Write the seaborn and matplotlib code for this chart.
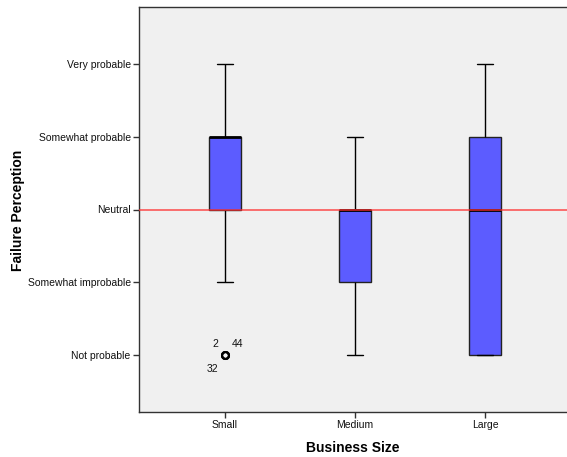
import pandas as pd
import matplotlib.pyplot as plt
import seaborn as sns

# failure perception scores (1 = Not probable ... 5 = Very probable)
small = [1, 1, 1, 2, 3, 3, 3, 3, 3, 4, 4, 4, 4, 4, 4, 4, 4, 5, 5, 5]
medium = [1, 1, 2, 2, 2, 2, 3, 3, 3, 3, 3, 3, 3, 3, 4, 4]
large = [1, 1, 1, 3, 3, 4, 4, 4, 5]

sizes = ['Small', 'Medium', 'Large']
levels = ['Not probable', 'Somewhat improbable', 'Neutral', 'Somewhat probable', 'Very probable']
outlier_cases = ['2', '44', '32']
neutral = 3

df = pd.DataFrame({
    'Business Size': ['Small'] * len(small) + ['Medium'] * len(medium) + ['Large'] * len(large),
    'Failure Perception': small + medium + large,
})

sns.set_style('white')
plt.rcParams['font.family'] = ['Liberation Sans', 'DejaVu Sans']

fig = plt.figure(figsize=(5.67, 4.57), dpi=100)
ax = fig.add_axes([139 / 567, 45 / 457, 428 / 567, 405 / 457])
ax.set_facecolor('#f0f0f0')

sns.boxplot(data=df, x='Business Size', y='Failure Perception', order=sizes, ax=ax,
            width=0.25, color='#5c5cff', saturation=1, whis=1.5,
            boxprops=dict(edgecolor='#222222', linewidth=1),
            whiskerprops=dict(color='black', linewidth=1),
            capprops=dict(color='black', linewidth=1),
            medianprops=dict(color='black', linewidth=2),
            flierprops=dict(marker='o', markerfacecolor='none', markeredgecolor='black',
                            markersize=5, markeredgewidth=1.5))

ax.axhline(neutral, color='#ff3030', lw=1.2, alpha=0.8, zorder=5)

# case labels for the Small outliers
offsets = [(-7, 8), (9, 8), (-9, -10)]
for lab, off in zip(outlier_cases, offsets):
    ax.annotate(lab, (0, 1), xytext=off, textcoords='offset points',
                ha='center', va='center', fontsize=7.5, color='#111111')

ax.set_ylim(0.22, 5.78)
ax.set_xlim(-0.66, 2.63)
ax.set_yticks(range(1, 6))
ax.set_yticklabels(levels, fontsize=7.5, color='#111111')
ax.set_xticks(range(3))
ax.set_xticklabels(sizes, fontsize=7.5, color='#111111')
ax.tick_params(axis='both', direction='out', length=4, width=1, color='#333333', left=True, bottom=True, pad=2)

for s in ['left', 'top', 'bottom']:
    ax.spines[s].set_color('#333333')
    ax.spines[s].set_linewidth(1)
ax.spines['right'].set_visible(False)

ax.set_xlabel('Business Size', fontsize=10, fontweight='bold', labelpad=8, color='black')
ax.set_ylabel('Failure Perception', fontsize=10, fontweight='bold', color='black')
ax.yaxis.set_label_coords(-0.266, 0.497)

fig.savefig('out.png', dpi=100, facecolor='white')
